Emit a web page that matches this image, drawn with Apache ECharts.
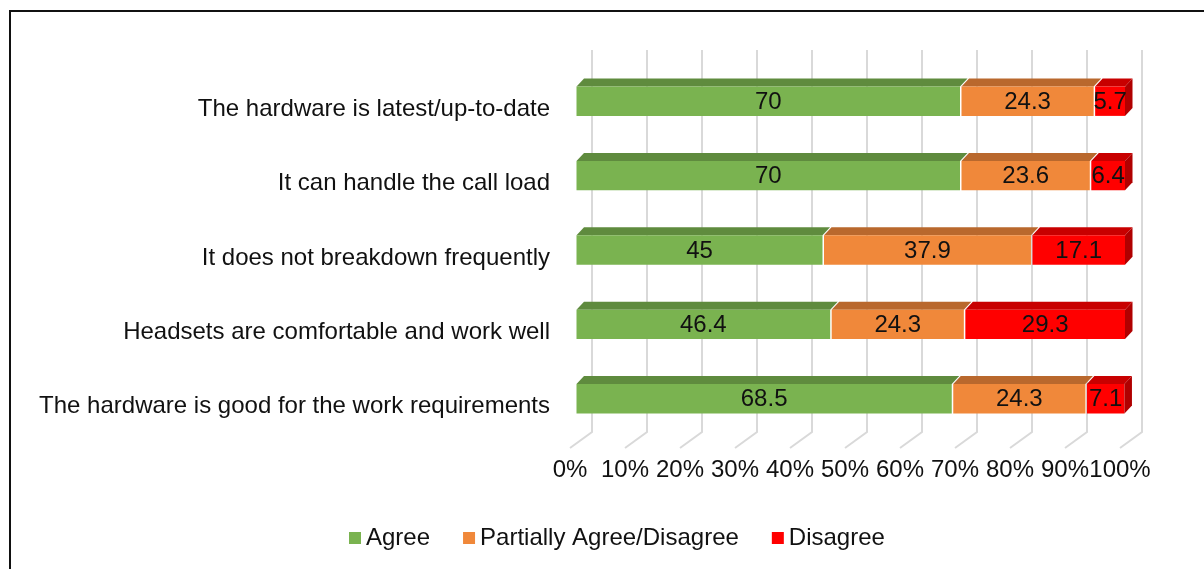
<!DOCTYPE html>
<html>
<head>
<meta charset="utf-8">
<script src="https://cdn.jsdelivr.net/npm/echarts@6/dist/echarts.min.js"></script>
<style>
  html, body { margin: 0; padding: 0; background: #fff; overflow: hidden; }
  #frame { position: absolute; left: 9px; top: 10px; width: 1260px; height: 620px; border: 2.5px solid #111; box-sizing: border-box; z-index: 5; pointer-events: none; }
  #chart { position: absolute; left: 0; top: 0; width: 1204px; height: 569px; z-index: 1; }
</style>
</head>
<body>
<div id="chart"></div>
<div id="frame"></div>
<script>
const categories = [
  'The hardware is latest/up-to-date',
  'It can handle the call load',
  'It does not breakdown frequently',
  'Headsets are comfortable and work well',
  'The hardware is good for the work requirements'
];
const seriesNames = ['Agree', 'Partially Agree/Disagree', 'Disagree'];
const agree = [70, 70, 45, 46.4, 68.5];
const partial = [24.3, 23.6, 37.9, 24.3, 24.3];
const disagree = [5.7, 6.4, 17.1, 29.3, 7.1];
const tickValues = [0, 10, 20, 30, 40, 50, 60, 70, 80, 90, 100];

const valueSets = [agree, partial, disagree];
const frontColors = ['#7ab350', '#f0883a', '#ff0000'];
const topColors = ['#5f8b3e', '#b9682d', '#c80000'];
const sideColors = ['#5a8238', '#a85c27', '#b00000'];

const FONT = '"Liberation Sans", Arial, sans-serif';
// 3D offsets (pixels)
const DX = 6.5, DY = -8;   // bar front face relative to the front plane
const TX = 7.5, TY = -8;   // bar depth
const GX = 22, GYB = -12, GYF = 4; // back wall / floor offsets

const chart = echarts.init(document.getElementById('chart'), null, { renderer: 'canvas' });

function makeBarSeries(k) {
  const data = categories.map((c, i) => {
    let start = 0;
    for (let j = 0; j < k; j++) start += valueSets[j][i];
    return [i, start, valueSets[k][i]];
  });
  const isLast = k === valueSets.length - 1;
  return {
    type: 'custom',
    name: seriesNames[k],
    xAxisIndex: 0, yAxisIndex: 0,
    itemStyle: { color: frontColors[k] },
    z: 10 + k,
    data: data,
    renderItem: function (params, api) {
      const cat = api.value(0), start = api.value(1), val = api.value(2);
      const p0 = api.coord([start, cat]);
      const p1 = api.coord([start + val, cat]);
      const h = api.size([0, 1])[1] * 0.395;
      const xs = p0[0] + DX, xe = p1[0] + DX - 1.5;
      const yTop = p0[1] - h / 2 + DY, yBot = yTop + h;
      const children = [
        { type: 'polygon', shape: { points: [[xs, yTop], [xe, yTop], [xe + TX, yTop + TY], [xs + TX, yTop + TY]] },
          style: { fill: topColors[k] } },
        { type: 'rect', shape: { x: xs, y: yTop, width: xe - xs, height: h },
          style: { fill: frontColors[k] } }
      ];
      if (isLast) {
        children.push({ type: 'polygon', shape: { points: [[xe, yTop], [xe + TX, yTop + TY], [xe + TX, yBot + TY], [xe, yBot]] },
          style: { fill: sideColors[k] } });
      }
      children.push({ type: 'text', style: {
        text: String(val), x: (xs + xe) / 2, y: (yTop + yBot) / 2 + 1,
        align: 'center', verticalAlign: 'middle',
        font: '24px ' + FONT, fill: '#111'
      } });
      return { type: 'group', children: children };
    }
  };
}

const gridSeries = {
  type: 'custom',
  name: 'gridlines',
  xAxisIndex: 0, yAxisIndex: 0,
  silent: true,
  z: 1,
  data: tickValues.map(v => [v]),
  encode: { x: 0 },
  renderItem: function (params, api) {
    const cs = params.coordSys;
    const x = api.coord([api.value(0), 0])[0];
    const bottom = cs.y + cs.height;
    const top = cs.y - GX;
    return {
      type: 'polyline',
      shape: { points: [[x + GX, top], [x + GX, bottom + GYB], [x, bottom + GYF]] },
      style: { stroke: '#d9d9d9', lineWidth: 2, fill: null }
    };
  }
};

const option = {
  animation: false,
  backgroundColor: '#fff',
  grid: { left: 570, width: 550, top: 72, height: 372, containLabel: false },
  xAxis: {
    type: 'value', min: 0, max: 100, interval: 10,
    axisLine: { show: false }, axisTick: { show: false }, splitLine: { show: false },
    axisLabel: { formatter: '{value}%', margin: 14, color: '#111', fontSize: 24, fontFamily: FONT }
  },
  yAxis: {
    type: 'category', data: categories, inverse: true,
    axisLine: { show: false }, axisTick: { show: false }, splitLine: { show: false },
    axisLabel: { margin: 20, color: '#111', fontSize: 24, fontFamily: FONT }
  },
  legend: {
    data: seriesNames,
    left: 344, top: 521,
    icon: 'rect', itemWidth: 12, itemHeight: 12, itemGap: 33,
    textStyle: { color: '#111', fontSize: 24, fontFamily: FONT, padding: [0, 0, 0, 0] }
  },
  series: [gridSeries, makeBarSeries(0), makeBarSeries(1), makeBarSeries(2)]
};
chart.setOption(option);
</script>
</body>
</html>
